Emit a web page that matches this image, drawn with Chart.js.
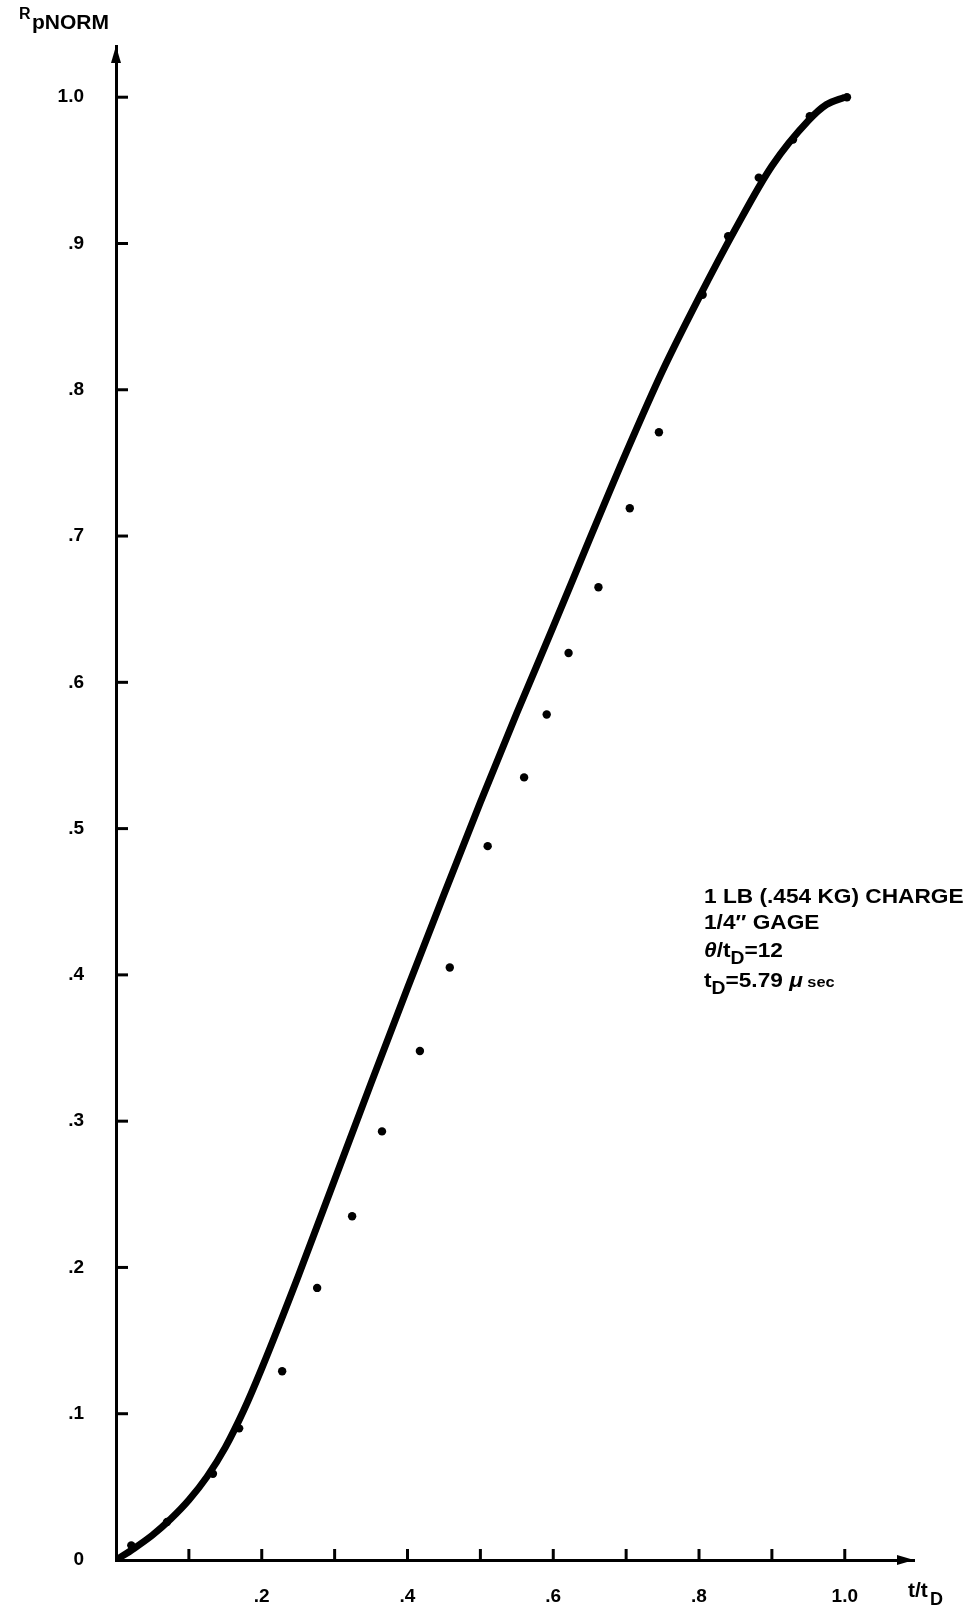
<!DOCTYPE html>
<html>
<head>
<meta charset="utf-8">
<script src="https://cdn.jsdelivr.net/npm/chart.js@4.4.0/dist/chart.umd.min.js"></script>
<style>
  html, body { margin: 0; padding: 0; background: #fff; }
  #wrap { width: 976px; height: 1610px; }
</style>
</head>
<body>
<div id="wrap"><canvas id="chart" width="976" height="1610"></canvas></div>
<script>
// smooth curve (t/tD, RpNORM)
const curveX = [0, 0.025, 0.05, 0.075, 0.10, 0.125, 0.15, 0.175, 0.20, 0.25, 0.30, 0.35, 0.40, 0.45, 0.50, 0.55, 0.60, 0.65, 0.70, 0.75, 0.80, 0.85, 0.90, 0.95, 0.975, 1.0];
const curveY = [0, 0.008, 0.017, 0.028, 0.041, 0.057, 0.077, 0.102, 0.131, 0.194, 0.260, 0.326, 0.391, 0.455, 0.518, 0.579, 0.638, 0.698, 0.757, 0.813, 0.863, 0.910, 0.953, 0.984, 0.995, 1.0];

// measured points (dots)
const pointX = [0.021, 0.070, 0.133, 0.169, 0.228, 0.276, 0.324, 0.365, 0.417, 0.458, 0.510, 0.560, 0.591, 0.621, 0.662, 0.705, 0.745, 0.805, 0.840, 0.882, 0.929, 0.952, 1.003];
const pointY = [0.010, 0.026, 0.059, 0.090, 0.129, 0.186, 0.235, 0.293, 0.348, 0.405, 0.488, 0.535, 0.578, 0.620, 0.665, 0.719, 0.771, 0.865, 0.905, 0.945, 0.971, 0.987, 1.0];

const yTickValues = [0, 0.1, 0.2, 0.3, 0.4, 0.5, 0.6, 0.7, 0.8, 0.9, 1.0];
const xTickMarks = [0.1, 0.2, 0.3, 0.4, 0.5, 0.6, 0.7, 0.8, 0.9, 1.0];
const xTickLabels = [0.2, 0.4, 0.6, 0.8, 1.0];

const noteLines = [
    [{ t: '1 LB (.454 KG) CHARGE' }],
    [{ t: '1/4\u2033 GAGE' }],
    [{ t: '\u03b8', italic: true }, { t: '/t' }, { t: 'D', sub: true }, { t: '=12' }],
    [{ t: 't' }, { t: 'D', sub: true }, { t: '=5.79 ' }, { t: '\u03bc', italic: true }, { t: ' sec', small: true }],
];
const noteBaselines = [903, 929, 957, 987];

const FONT = '"Liberation Sans", Arial, sans-serif';

function fmt(v) {
    if (v === 0) return '0';
    if (Math.abs(v - 1) < 1e-9) return '1.0';
    return '.' + Math.round(v * 10);
}

// draws a line of text pieces, with subscripts, stretched a little to match the old typeface
function drawRuns(ctx, x, y, runs, size, stretch) {
    ctx.save();
    ctx.translate(x, y);
    ctx.scale(stretch, 1);
    let cx = 0;
    runs.forEach((r) => {
        const s = r.sub ? size * 0.85 : r.small ? size * 0.72 : size;
        ctx.font = (r.italic ? 'italic ' : '') + 'bold ' + s + 'px ' + FONT;
        ctx.fillText(r.t, cx, r.sub ? 7 : 0);
        cx += ctx.measureText(r.t).width;
    });
    ctx.restore();
}

const decor = {
    id: 'decor',
    afterDraw(chart) {
        const { ctx, chartArea: a, scales: { x, y } } = chart;
        ctx.save();
        ctx.strokeStyle = '#000';
        ctx.fillStyle = '#000';
        ctx.lineWidth = 3;

        // inward tick marks
        xTickMarks.forEach((v) => {
            const px = x.getPixelForValue(v);
            ctx.beginPath();
            ctx.moveTo(px, a.bottom);
            ctx.lineTo(px, a.bottom - 11);
            ctx.stroke();
        });
        yTickValues.slice(1).forEach((v) => {
            const py = y.getPixelForValue(v);
            ctx.beginPath();
            ctx.moveTo(a.left, py);
            ctx.lineTo(a.left + 12, py);
            ctx.stroke();
        });

        // arrow heads
        ctx.beginPath();
        ctx.moveTo(a.right, a.bottom);
        ctx.lineTo(a.right - 17, a.bottom - 5);
        ctx.lineTo(a.right - 17, a.bottom + 5);
        ctx.closePath();
        ctx.fill();
        ctx.beginPath();
        ctx.moveTo(a.left, a.top);
        ctx.lineTo(a.left - 5, a.top + 17);
        ctx.lineTo(a.left + 5, a.top + 17);
        ctx.closePath();
        ctx.fill();

        // axis titles
        ctx.textBaseline = 'alphabetic';
        ctx.textAlign = 'left';
        ctx.font = 'bold 16px ' + FONT;
        ctx.fillText('R', 19, 19);
        drawRuns(ctx, 32, 29, [{ t: 'pNORM' }], 20, 1.05);

        drawRuns(ctx, 908, 1597, [{ t: 't/t' }], 20, 1.05);
        ctx.font = 'bold 18px ' + FONT;
        ctx.fillText('D', 930, 1605);

        // note
        noteLines.forEach((runs, i) => {
            drawRuns(ctx, 704, noteBaselines[i], runs, 21, 1.08);
        });
        ctx.restore();
    }
};

new Chart(document.getElementById('chart'), {
    type: 'line',
    data: {
        datasets: [
            {
                type: 'scatter',
                data: pointX.map((v, i) => ({ x: v, y: pointY[i] })),
                backgroundColor: '#000',
                borderColor: '#000',
                borderWidth: 0,
                pointRadius: 4.2,
                showLine: false,
                order: 0,
            },
            {
                data: curveX.map((v, i) => ({ x: v, y: curveY[i] })),
                borderColor: '#000',
                borderWidth: 7,
                pointRadius: 0,
                cubicInterpolationMode: 'monotone',
                fill: false,
                order: 1,
            },
        ],
    },
    options: {
        responsive: false,
        devicePixelRatio: 1,
        animation: false,
        layout: { padding: { top: 46, right: 62, left: 0, bottom: 0 } },
        plugins: { legend: { display: false }, tooltip: { enabled: false } },
        scales: {
            x: {
                type: 'linear',
                position: 'bottom',
                min: 0,
                max: 1.095,
                grid: { display: false, drawTicks: false },
                border: { display: true, color: '#000', width: 3 },
                afterBuildTicks: (s) => { s.ticks = xTickLabels.map((v) => ({ value: v })); },
                afterFit: (s) => { s.height = 50; },
                ticks: {
                    callback: (v) => fmt(v),
                    color: '#000',
                    font: { family: FONT, size: 19, weight: 'bold' },
                    padding: 25,
                    maxRotation: 0,
                    autoSkip: false,
                },
            },
            y: {
                type: 'linear',
                min: 0,
                max: 1.035,
                grid: { display: false, drawTicks: false },
                border: { display: true, color: '#000', width: 3 },
                afterBuildTicks: (s) => { s.ticks = yTickValues.map((v) => ({ value: v })); },
                afterFit: (s) => { s.width = 116; },
                ticks: {
                    callback: (v) => fmt(v),
                    color: '#000',
                    font: { family: FONT, size: 19, weight: 'bold' },
                    padding: 32,
                    autoSkip: false,
                },
            },
        },
    },
    plugins: [decor],
});
</script>
</body>
</html>
